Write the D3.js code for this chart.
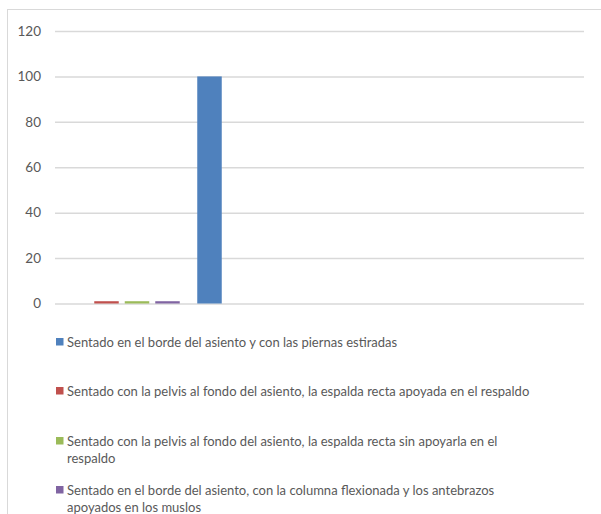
<!DOCTYPE html>
<html>
<head>
<meta charset="utf-8">
<script src="https://cdn.jsdelivr.net/npm/d3@7"></script>
<style>
  html, body { margin: 0; padding: 0; background: #fff; }
  svg { display: block; }
  text { font-family: Lato, "Open Sans", sans-serif; fill: #595959; }
</style>
</head>
<body>
<svg id="chart" width="601" height="514"></svg>
<script>
// ---- data ----
const categories = ["1", "2", "3", "4"];
const seriesNames = [
  "Sentado en el borde del asiento y con las piernas estiradas",
  "Sentado con la pelvis al fondo del asiento, la espalda recta apoyada en el respaldo",
  "Sentado con la pelvis al fondo del asiento, la espalda recta sin apoyarla en el respaldo",
  "Sentado en el borde del asiento, con la columna flexionada y los antebrazos apoyados en los muslos"
];
const legendLines = [
  ["Sentado en el borde del asiento y con las piernas estiradas"],
  ["Sentado con la pelvis al fondo del asiento, la espalda recta apoyada en el respaldo"],
  ["Sentado con la pelvis al fondo del asiento, la espalda recta sin apoyarla en el", "respaldo"],
  ["Sentado en el borde del asiento, con la columna flexionada y los antebrazos", "apoyados en los muslos"]
];
const seriesA = [0, 100, 0, 0];
const seriesB = [1, 0, 0, 0];
const seriesC = [1, 0, 0, 0];
const seriesD = [1, 0, 0, 0];
const seriesValues = [seriesA, seriesB, seriesC, seriesD];
const yTicks = [0, 20, 40, 60, 80, 100, 120];
const colors = ["#4f81bd", "#c0504d", "#9bbb59", "#8064a2"];

// ---- layout ----
const svg = d3.select("#chart");
const plot = { left: 55, right: 584, top: 31, bottom: 303.5 };

// frame
svg.append("rect")
  .attr("x", 7.5).attr("y", 9.5)
  .attr("width", 620).attr("height", 540)
  .attr("fill", "none").attr("stroke", "#d9d9d9").attr("stroke-width", 1);

const y = d3.scaleLinear().domain([0, 120]).range([plot.bottom, plot.top]);
const x0 = d3.scaleBand().domain(categories).range([plot.left, plot.left + 534]);
const x1 = d3.scaleBand().domain(d3.range(seriesValues.length))
  .range([0, x0.bandwidth()]).paddingInner(0.197).paddingOuter(0.287);

// gridlines
const yAxis = d3.axisLeft(y).tickValues(yTicks).tickSize(-(plot.right - plot.left)).tickPadding(14);
const ga = svg.append("g").attr("transform", `translate(${plot.left},0)`).call(yAxis);
ga.select(".domain").remove();
ga.selectAll(".tick line").attr("stroke", "#d9d9d9").attr("stroke-width", 1.5);
ga.selectAll(".tick text").attr("font-size", 13.5).attr("fill", "#595959")
  .style("font-family", "Lato, sans-serif");

// bars
const g = svg.append("g");
categories.forEach((c, ci) => {
  seriesValues.forEach((vals, si) => {
    const v = vals[ci];
    if (v <= 0) return;
    g.append("rect")
      .attr("x", x0(c) + x1(si))
      .attr("y", y(v))
      .attr("width", x1.bandwidth())
      .attr("height", y(0) - y(v))
      .attr("fill", colors[si]);
  });
});

// legend
const legendY = [347, 396, 446, 495];
const lg = svg.append("g");
legendLines.forEach((lines, i) => {
  lg.append("rect")
    .attr("x", 56).attr("y", legendY[i] - 9)
    .attr("width", 7.5).attr("height", 7.5)
    .attr("fill", colors[i]);
  lines.forEach((ln, j) => {
    lg.append("text")
      .attr("x", 67).attr("y", legendY[i] + j * 16.5)
      .attr("font-size", 13)
      .text(ln);
  });
});
</script>
</body>
</html>
